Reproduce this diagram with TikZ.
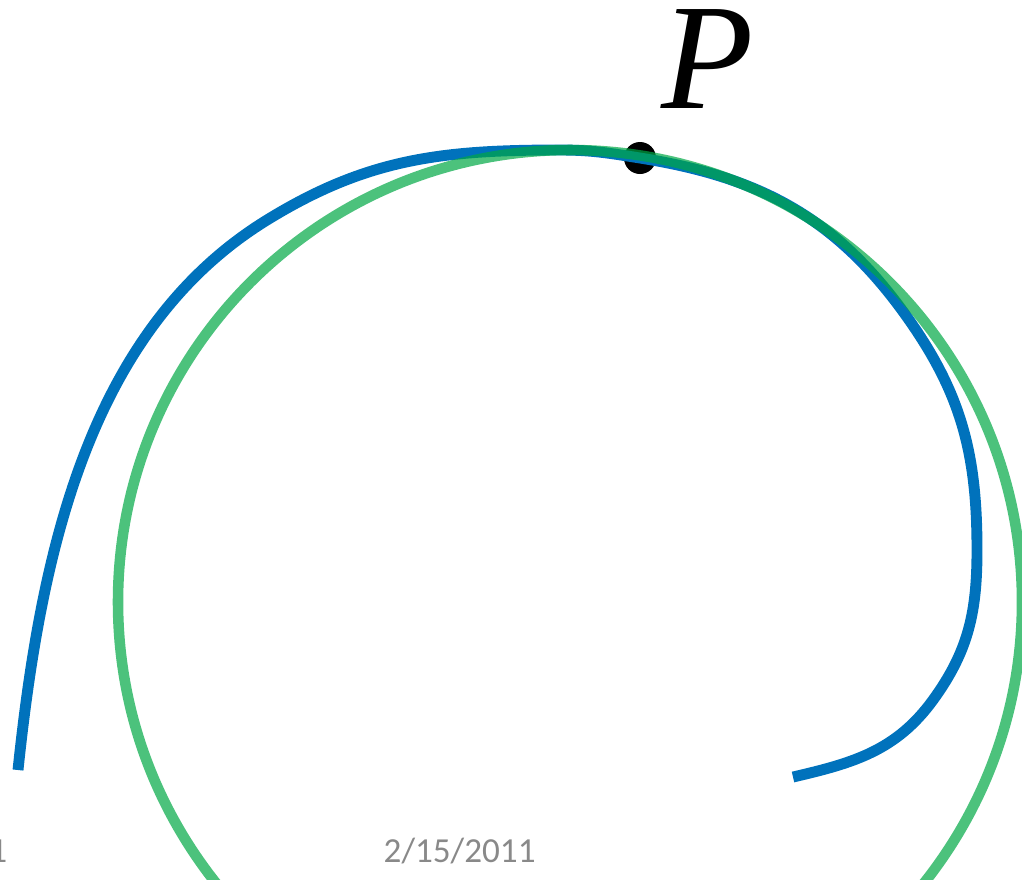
\documentclass[tikz,border=0pt]{standalone}
\usepackage{fontspec}
\setsansfont{Carlito}
\newfontfamily\timesfont{Liberation Serif}
\usepackage{xcolor}
\definecolor{curveBlue}{HTML}{0072BC}
\definecolor{circleGreen}{HTML}{00A845}
\definecolor{dateGray}{HTML}{898989}
\usepackage{tikz}
\usetikzlibrary{positioning}

\begin{document}
\begin{tikzpicture}[
    curveLine/.style={draw=curveBlue, line width=3.1pt},
    circleLine/.style={draw=circleGreen, line width=3pt, draw opacity=0.7},
    dotNode/.style={circle, fill=black, inner sep=0pt, minimum size=0.32cm},
    ptLabel/.style={inner sep=0pt, font=\timesfont\itshape\fontsize{43pt}{43pt}\selectfont},
    footNode/.style={inner sep=0pt, font=\sffamily\fontsize{10pt}{12pt}\selectfont\color{dateGray}}
]
\useasboundingbox (0,0) rectangle (10.22,8.79);
\clip (0,0) rectangle (10.22,8.79);

\node[dotNode] (dotP) at (6.40,7.21) {};
\node[ptLabel, above right=0.37cm and 0.09cm of dotP] (lblP) {P};

% Curve and osculating circle
\draw[curveLine] (0.18,1.09)
    to[out=84, in=211.6, looseness=0.9] (2.67,6.59)
    to[out=31.6, in=180] (5.6,7.29)
    to[out=0, in=171] (dotP.center)
    to[out=-9, in=125.4] (9.07,5.62)
    to[out=-54.6, in=90] (9.77,3.29)
    to[out=-90, in=54] (9.33,1.79)
    to[out=-126, in=13] (7.93,1.02);
\draw[circleLine] (5.70,2.77) circle (4.52);

% Footer
\node[footNode, anchor=base west] (date) at (3.83,0.17) {2/15/2011};
\node[footNode, anchor=base east] (pageNum) at (0.08,0.17) {1};

\end{tikzpicture}
\end{document}
